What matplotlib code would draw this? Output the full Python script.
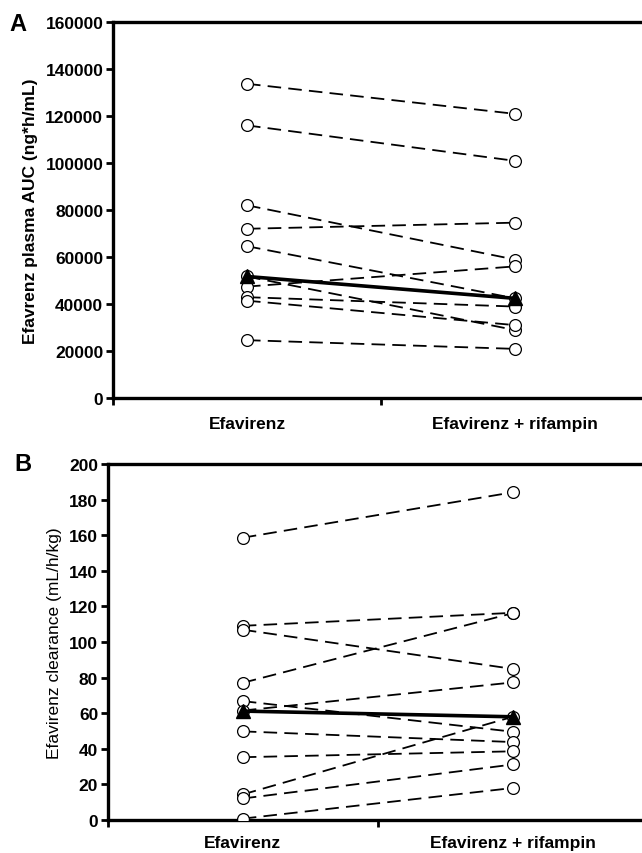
import matplotlib
matplotlib.use('Agg')
import matplotlib.pyplot as plt
from matplotlib.ticker import FixedLocator, NullFormatter

plt.rcParams['font.family'] = ['Liberation Sans', 'DejaVu Sans']

# Categories
groups = ['Efavirenz', 'Efavirenz + rifampin']

# Panel A: plasma AUC (ng*h/mL), one pair per subject
auc_pre = [133700, 116000, 82000, 72000, 64600, 51700, 47400, 42900, 41400, 24600]
auc_post = [120900, 100900, 58900, 74600, 42400, 28900, 56000, 38900, 31000, 20900]
auc_mean = [51700, 42400]

# Panel B: clearance (mL/h/kg)
cl_pre = [158.6, 109.1, 106.9, 77.1, 66.8, 61.5, 49.8, 35.3, 14.4, 12.1, 0.8]
cl_post = [184.1, 116.4, 84.9, 116.2, 49.6, 77.3, 43.8, 38.6, 58.0, 31.2, 18.0]
cl_mean = [61.2, 58.0]

auc_ticks = [0, 20000, 40000, 60000, 80000, 100000, 120000, 140000, 160000]
cl_ticks = [0, 20, 40, 60, 80, 100, 120, 140, 160, 180, 200]

x_pts = [0.5, 1.5]
FS = 12.5

fig = plt.figure(figsize=(6.42, 8.54), dpi=100, facecolor='white')
axA = fig.add_axes([0.176, 0.5328, 0.835, 0.4403])
axB = fig.add_axes([0.168, 0.0386, 0.841, 0.4169])


def draw_panel(ax, pre, post, mean, ticks, ylabel, label_weight, xpad):
    for a, b in zip(pre, post):
        ax.plot(x_pts, [a, b], color='black', lw=1.3, ls=(0, (7.5, 4)), zorder=2)
    for a, b in zip(pre, post):
        ax.plot(x_pts, [a, b], ls='none', marker='o', ms=8.5, mfc='white',
                mec='black', mew=0.9, zorder=3)
    ax.plot(x_pts, mean, color='black', lw=2.6, marker='^', ms=10,
            mfc='black', mec='black', zorder=4)

    ax.set_xlim(0, 2)
    ax.set_ylim(ticks[0], ticks[-1])
    ax.set_yticks(ticks)
    ax.set_yticklabels([str(t) for t in ticks], fontsize=FS, fontweight='bold')

    ax.xaxis.set_major_locator(FixedLocator([0, 1, 2]))
    ax.xaxis.set_major_formatter(NullFormatter())
    ax.xaxis.set_minor_locator(FixedLocator(x_pts))
    ax.set_xticklabels(groups, minor=True, fontsize=FS, fontweight='bold')
    ax.tick_params(axis='x', which='minor', length=0, pad=xpad)
    ax.tick_params(axis='both', which='major', direction='out', length=5,
                   width=2, color='black')
    ax.tick_params(axis='y', pad=2)

    for side in ['left', 'bottom', 'top']:
        ax.spines[side].set_linewidth(2.4)
    ax.spines['right'].set_visible(False)

    ax.set_ylabel(ylabel, fontsize=FS, fontweight=label_weight, labelpad=5)


draw_panel(axA, auc_pre, auc_post, auc_mean, auc_ticks,
           'Efavrenz plasma AUC (ng*h/mL)', 'bold', 13)
draw_panel(axB, cl_pre, cl_post, cl_mean, cl_ticks,
           'Efavirenz clearance (mL/h/kg)', 'normal', 11)

fig.text(0.028, 0.971, 'A', fontsize=17, fontweight='bold', va='center', ha='center')
fig.text(0.036, 0.456, 'B', fontsize=17, fontweight='bold', va='center', ha='center')

fig.savefig('out.png', dpi=100, facecolor='white')
